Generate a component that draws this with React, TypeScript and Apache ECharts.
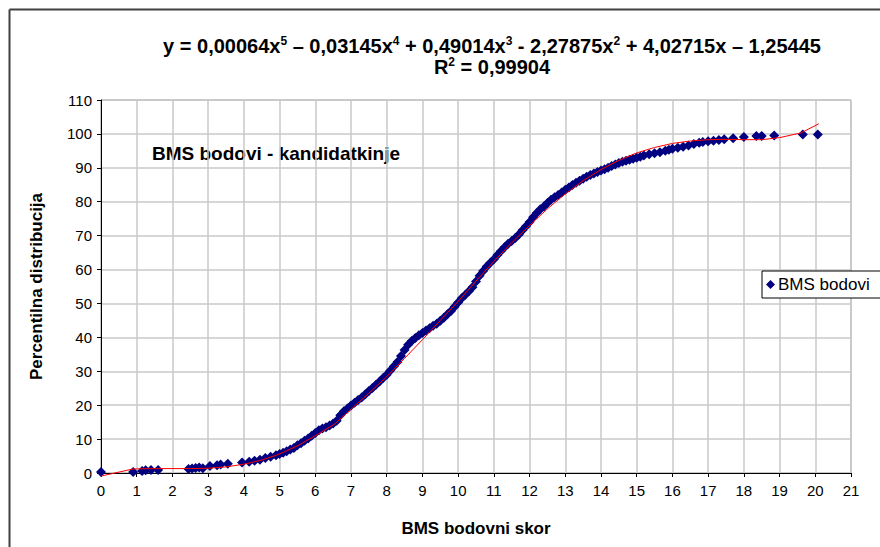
import React, { useEffect, useRef } from "react";
import * as echarts from "echarts";

// BMS scores (x) and percentile distribution (y)
const scoreX = [
  0, 0.9, 1.15, 1.25, 1.4, 1.6, 2.45, 2.55, 2.65, 2.75, 2.85, 3.05, 3.25, 3.35, 3.55,
  3.95, 4.15, 4.3, 4.45, 4.6, 4.75, 4.9, 5.0, 5.1, 5.2, 5.3, 5.4, 5.5, 5.6, 5.7, 5.8,
  5.9, 6.0, 6.1, 6.2, 6.3, 6.4, 6.5, 6.6, 6.7, 6.8, 6.9, 7.0, 7.1, 7.2, 7.3, 7.4, 7.5,
  7.6, 7.7, 7.8, 7.9, 8.0, 8.1, 8.2, 8.3, 8.4, 8.5, 8.6, 8.7, 8.8, 8.9, 9.0, 9.1, 9.2,
  9.3, 9.4, 9.5, 9.6, 9.7, 9.8, 9.9, 10.0, 10.1, 10.2, 10.3, 10.4, 10.5, 10.6, 10.7,
  10.8, 10.9, 11.0, 11.1, 11.2, 11.3, 11.4, 11.5, 11.6, 11.7, 11.8, 11.9, 12.0, 12.1,
  12.2, 12.3, 12.4, 12.5, 12.6, 12.7, 12.8, 12.9, 13.0, 13.1, 13.2, 13.3, 13.4, 13.5,
  13.6, 13.7, 13.8, 13.9, 14.0, 14.1, 14.2, 14.3, 14.4, 14.5, 14.6, 14.7, 14.8, 14.9,
  15.0, 15.1, 15.2, 15.35, 15.5, 15.65, 15.8, 15.9, 16.0, 16.15, 16.3, 16.45, 16.6,
  16.75, 16.85, 17.0, 17.15, 17.3, 17.45, 17.7, 18.0, 18.35, 18.5, 18.85, 19.65, 20.07,
];
const percentileY = [
  0.3, 0.3, 0.6, 0.8, 0.9, 0.9, 1.2, 1.3, 1.5, 1.6, 1.4, 2.1, 2.3, 2.5, 2.7,
  3.1, 3.3, 3.6, 3.9, 4.4, 4.8, 5.2, 5.6, 6.0, 6.4, 6.9, 7.4, 8.2, 8.8, 9.5, 10.2,
  11.0, 11.8, 12.6, 13.1, 13.5, 14.0, 14.6, 15.4, 17.0, 18.2, 19.0, 19.9, 20.7, 21.5,
  22.3, 23.2, 24.2, 25.1, 26.0, 27.0, 28.0, 29.0, 30.2, 31.5, 32.7, 34.5, 36.3, 37.8,
  38.9, 39.8, 40.6, 41.3, 42.0, 42.7, 43.4, 44.0, 44.9, 45.8, 46.8, 47.8, 49.0, 50.3,
  51.5, 52.6, 53.6, 54.8, 56.5, 58.2, 59.6, 60.9, 62.0, 63.0, 64.3, 65.5, 66.6, 67.6,
  68.4, 69.3, 70.3, 71.6, 72.8, 74.0, 75.4, 76.7, 77.8, 78.6, 79.6, 80.6, 81.3, 82.0,
  82.7, 83.5, 84.2, 84.9, 85.6, 86.2, 86.8, 87.4, 87.9, 88.3, 88.8, 89.2, 89.6, 90.0,
  90.5, 91.0, 91.4, 91.8, 92.1, 92.4, 92.7, 93.0, 93.3, 93.6, 94.0, 94.3, 94.6, 95.0,
  95.3, 95.6, 95.9, 96.2, 96.6, 97.0, 97.4, 97.6, 97.8, 98.0, 98.2, 98.4, 98.7, 99.1,
  99.4, 99.4, 99.5, 99.8, 99.8,
];

// Polynomial trend line
const trendX = [
  0, 0.9, 1.6, 2.5, 3.0, 3.5, 4.0, 4.5, 5.0, 5.5, 6.0, 6.55, 7.0, 7.5, 8.0, 8.5, 9.0,
  9.5, 10.0, 10.5, 11.0, 11.5, 12.0, 12.5, 13.0, 13.5, 14.0, 14.5, 15.0, 15.5, 16.0,
  16.5, 17.0, 17.5, 18.0, 18.5, 19.0, 19.6, 20.1,
];
const trendY = [
  -0.9, 1.2, 1.3, 1.3, 1.4, 1.8, 2.6, 3.8, 5.6, 8.0, 11.0, 14.5, 18.8, 23.5, 28.4,
  33.8, 39.3, 45.0, 50.6, 56.6, 62.4, 67.9, 73.0, 77.9, 82.3, 86.2, 89.5, 92.2, 94.4,
  96.0, 97.2, 97.9, 98.3, 98.4, 98.3, 98.3, 98.9, 100.3, 103.0,
];

const seriesName = "BMS bodovi";
const equationParts = [
  ["y = 0,00064x", "5"],
  [" – 0,03145x", "4"],
  [" + 0,49014x", "3"],
  [" - 2,27875x", "2"],
  [" + 4,02715x – 1,25445", ""],
];
const r2Text = ["R", "2", " = 0,99904"];
const insideLabel = "BMS bodovi - kandidatkinje";
const xAxisName = "BMS bodovni skor";
const yAxisName = "Percentilna distribucija";

const FONT = "'Liberation Sans', Arial, sans-serif";

export default function App() {
  const ref = useRef<HTMLDivElement>(null);
  useEffect(() => {
    if (!ref.current) return;
    const chart = echarts.init(ref.current, null, { renderer: "svg" });
    const eqRich = equationParts
      .map(([t, s]) => `{n|${t}}` + (s ? `{s|${s}}` : ""))
      .join("");
    const r2Rich = `{n|${r2Text[0]}}{s|${r2Text[1]}}{n|${r2Text[2]}}`;
    const rich = {
      n: { fontSize: 20, fontWeight: "bold", fontFamily: FONT, color: "#000", lineHeight: 21 },
      s: { fontSize: 12, fontWeight: "bold", fontFamily: FONT, color: "#000", lineHeight: 21, verticalAlign: "top" },
    };
    chart.setOption({
      animation: false,
      backgroundColor: "#fff",
      title: {
        text: eqRich + "\n" + r2Rich,
        left: 487,
        top: 30,
        textAlign: "center",
        textStyle: { rich, lineHeight: 21 },
      },
      legend: {
        data: [seriesName],
        left: 762,
        top: 271,
        orient: "vertical",
        backgroundColor: "#fff",
        borderColor: "#000",
        borderWidth: 1,
        borderRadius: 0,
        padding: [5, 12, 5, 4],
        itemWidth: 9,
        itemHeight: 9,
        icon: "diamond",
        textStyle: { fontFamily: FONT, fontSize: 17, color: "#000", padding: [0, 0, 0, -2] },
      },
      grid: {
        left: 101,
        right: 29,
        top: 100,
        bottom: 74,
        show: true,
        borderColor: "#999",
        borderWidth: 1,
        backgroundColor: "#fff",
      },
      xAxis: {
        type: "value",
        min: 0,
        max: 21,
        interval: 1,
        name: xAxisName,
        nameLocation: "middle",
        nameGap: 47,
        nameTextStyle: { fontFamily: FONT, fontSize: 17, fontWeight: "bold", color: "#000" },
        axisLine: { show: true, onZero: false, lineStyle: { color: "#000", width: 1 } },
        axisTick: { show: true, length: 4, lineStyle: { color: "#000" } },
        axisLabel: { fontFamily: FONT, fontSize: 15, color: "#000", margin: 10 },
        splitLine: { show: true, lineStyle: { color: "#c8c8c8", width: 1.5 } },
      },
      yAxis: {
        type: "value",
        min: 0,
        max: 110,
        interval: 10,
        name: yAxisName,
        nameLocation: "middle",
        nameGap: 56,
        nameTextStyle: { fontFamily: FONT, fontSize: 17, fontWeight: "bold", color: "#000" },
        axisLine: { show: true, onZero: false, lineStyle: { color: "#000", width: 1 } },
        axisTick: { show: true, length: 4, lineStyle: { color: "#000" } },
        axisLabel: { fontFamily: FONT, fontSize: 15, color: "#000", margin: 9 },
        splitLine: { show: true, lineStyle: { color: "#c8c8c8", width: 1.5 } },
      },
      graphic: [
        {
          type: "text",
          left: 152,
          top: 144,
          style: { text: insideLabel, font: `bold 19px ${FONT}`, fill: "#000" },
        },
        {
          type: "line",
          shape: { x1: 9.5, y1: 9.5, x2: 9.5, y2: 547 },
          style: { stroke: "#404040", lineWidth: 2 },
        },
        {
          type: "line",
          shape: { x1: 9.5, y1: 9.5, x2: 880, y2: 9.5 },
          style: { stroke: "#404040", lineWidth: 2 },
        },
      ],
      series: [
        {
          name: seriesName,
          type: "scatter",
          symbol: "diamond",
          symbolSize: 10,
          clip: false,
          itemStyle: { color: "#000080", opacity: 1 },
          data: scoreX.map((x, i) => [x, percentileY[i]]),
          z: 2,
        },
        {
          name: "trend",
          type: "line",
          showSymbol: false,
          symbol: "none",
          clip: false,
          smooth: false,
          lineStyle: { color: "#ff0000", width: 1 },
          data: trendX.map((x, i) => [x, trendY[i]]),
          z: 3,
        },
      ],
    });
    return () => chart.dispose();
  }, []);
  return (
    <div
      ref={ref}
      style={{ position: "fixed", left: 0, top: 0, width: 880, height: 547 }}
    />
  );
}
